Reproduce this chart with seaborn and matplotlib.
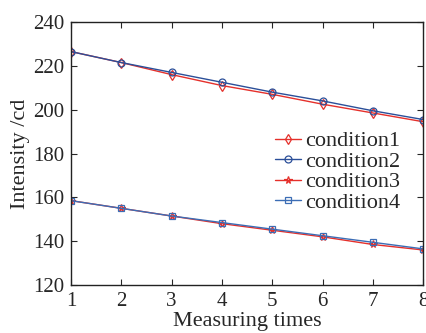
import pandas as pd
import numpy as np
import matplotlib
matplotlib.use('Agg')
import matplotlib.pyplot as plt
import seaborn as sns

# данные
times = [1, 2, 3, 4, 5, 6, 7, 8]
condition1 = [226.5, 221.5, 216.0, 211.0, 207.0, 202.5, 198.5, 194.5]
condition2 = [226.5, 221.5, 217.0, 212.5, 208.0, 204.0, 199.5, 195.5]
condition3 = [158.5, 155.0, 151.5, 148.0, 145.0, 142.0, 138.5, 136.0]
condition4 = [158.5, 155.0, 151.5, 148.5, 145.5, 142.5, 139.5, 136.5]
labels = ['condition1', 'condition2', 'condition3', 'condition4']

sns.set_style('ticks')
plt.rcParams['font.family'] = ['Liberation Serif', 'DejaVu Serif']

fig, ax = plt.subplots(figsize=(4.27, 3.33), dpi=100)

styles = {
    'condition1': dict(color='#e5302b', marker='d', markersize=5.5),
    'condition2': dict(color='#2b4f99', marker='o', markersize=5),
    'condition3': dict(color='#e5302b', marker='*', markersize=5.5),
    'condition4': dict(color='#3c6db5', marker='s', markersize=4.5),
}

for name, vals in zip(labels, [condition1, condition2, condition3, condition4]):
    st = styles[name]
    sns.lineplot(x=times, y=vals, ax=ax, label=name, color=st['color'],
                 marker=st['marker'], markersize=st['markersize'],
                 markerfacecolor='none', markeredgecolor=st['color'],
                 markeredgewidth=0.9, linewidth=1.0)

ax.set_xlim(1, 8)
ax.set_ylim(120, 240)
ax.set_xticks(times)
ax.set_yticks(np.arange(120, 241, 20))
ax.tick_params(direction='in', labelsize=15, length=4, width=0.8, pad=5,
               top=True, right=True)
for s in ax.spines.values():
    s.set_linewidth(1.0)
    s.set_color('#222222')
ax.set_xlabel('Measuring times', fontsize=16, labelpad=0.5)
ax.set_ylabel('Intensity /cd', fontsize=16, labelpad=2)

leg = ax.legend(loc='center left', bbox_to_anchor=(0.58, 0.43), frameon=False,
                fontsize=16, handlelength=1.15, handletextpad=0.2,
                labelspacing=0.0, borderaxespad=0, borderpad=0)

plt.subplots_adjust(left=0.166, right=0.991, top=0.934, bottom=0.144)
plt.savefig('out.png', dpi=100)
